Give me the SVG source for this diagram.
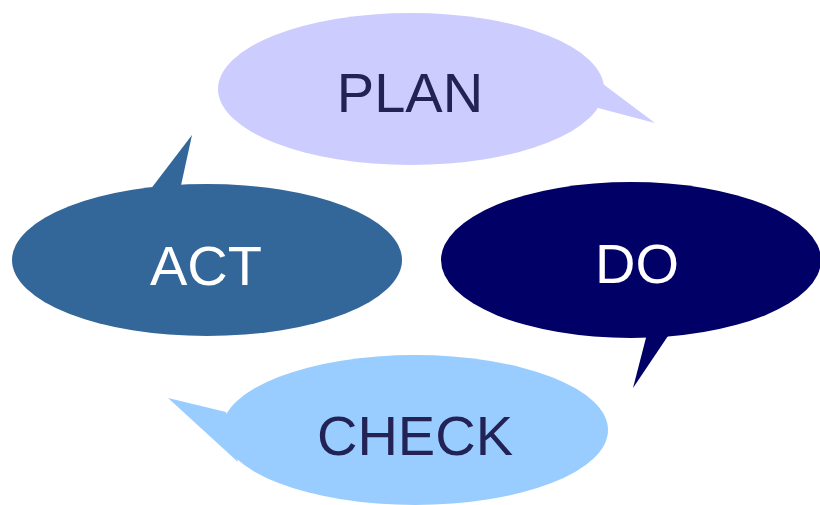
<svg xmlns="http://www.w3.org/2000/svg" width="820" height="505" viewBox="0 0 820 505">
<style>
.lbl{font-family:"Liberation Sans","DejaVu Sans",sans-serif;font-size:56px;text-anchor:middle}
.dark{fill:#222255}
.light{fill:#ffffff}
</style>
<rect width="820" height="505" fill="#ffffff"/>
<g id="plan">
<ellipse cx="411" cy="89" rx="193" ry="76" fill="#ccccff"/>
<polygon points="595,78 655,123 598,108" fill="#ccccff"/>
<text class="lbl dark" x="410" y="112">PLAN</text>
</g>
<g id="act">
<ellipse cx="207" cy="260" rx="195" ry="76" fill="#336699"/>
<polygon points="150,190 192,135 180,190" fill="#336699"/>
<text class="lbl light" x="206" y="285">ACT</text>
</g>
<g id="do">
<ellipse cx="631" cy="260" rx="190" ry="78" fill="#000066"/>
<polygon points="648,330 633,388 672,330" fill="#000066"/>
<text class="lbl light" x="637" y="283">DO</text>
</g>
<g id="check">
<ellipse cx="415" cy="430" rx="193" ry="75" fill="#99ccff"/>
<polygon points="226,412 168,398 238,462" fill="#99ccff"/>
<text class="lbl dark" x="415" y="455">CHECK</text>
</g>
<g id="connectors"></g>
</svg>
